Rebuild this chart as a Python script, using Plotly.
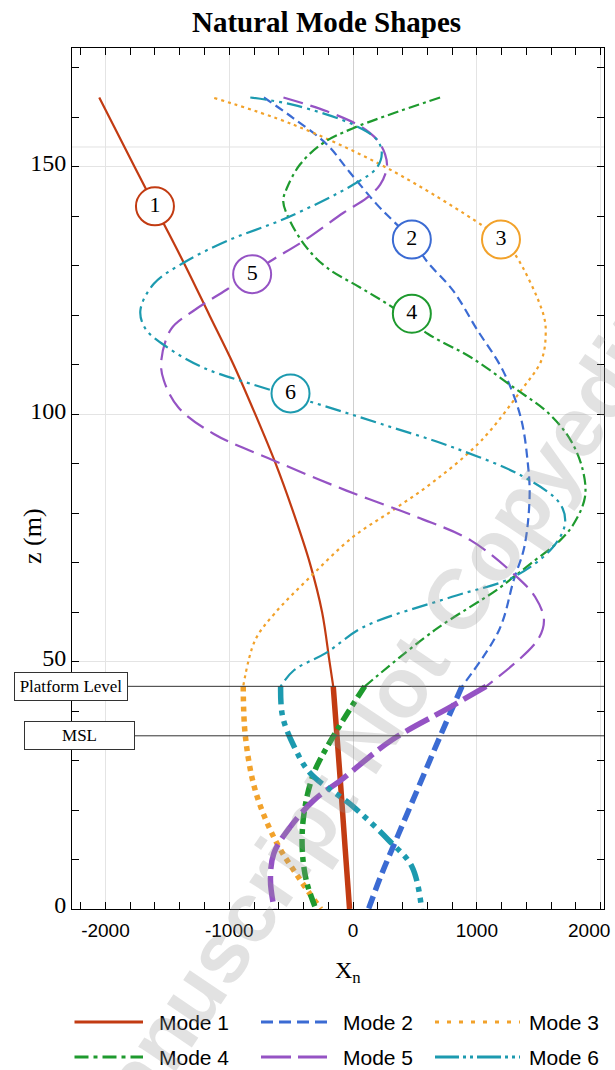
import plotly.graph_objects as go

# Elevations of the platform and of mean sea level (m)
PLATFORM_Z = 45
MSL_Z = 35

# Modal displacement X_n sampled along the height z (m), top to bottom
mode1_z = [164, 150, 140, 130, 120, 110, 100, 90, 80, 70, 60, 50, 45, 35, 25, 12, 0]
mode1_x = [-2050, -1765, -1560, -1355, -1160, -965, -790, -625, -480, -350, -250, -190, -160,
           -130, -100, -63, -28]

mode2_z = [164, 159.8, 154.5, 149, 142.4, 139, 135.3, 130.9, 124.9, 117.2, 108.8, 99.4, 90, 83.2,
           73.1, 66.4, 56.4, 45, 35, 25, 15, 7, 0]
mode2_x = [-720, -481, -211, -30, 192, 326, 475, 596, 810, 999, 1211, 1354, 1412, 1426,
           1383, 1297, 1180, 880, 705, 535, 365, 230, 125]

mode3_z = [163.9, 158.5, 149.6, 138, 135.3, 132.3, 120.2, 116, 110.8, 104.7, 94.7, 86.6, 80.5,
           75.2, 67.1, 59.7, 54.3, 45, 35, 24, 14, 6, 0]
mode3_x = [-1121, -481, 286, 1052, 1193, 1308, 1537, 1556, 1520, 1354, 1037, 663, 316,
           0, -346, -634, -791, -887, -870, -790, -630, -430, -260]

mode4_z = [164, 157.8, 154.8, 150.5, 145.7, 143, 139, 133.6, 129.6, 125.6, 121.5, 116.2, 111.5,
           105.4, 100.1, 94.7, 88.6, 83.2, 77.9, 74.5, 69.9, 67.1, 64.3, 56.4, 45, 36.2, 27.5,
           19.5, 12.6, 5.9, 0]
mode4_x = [703, 1, -241, -427, -534, -564, -508, -373, -211, 57, 324, 606, 951,
           1297, 1583, 1758, 1857, 1873, 1784, 1672, 1440, 1297, 1150, 662, 95, -128, -316,
           -395, -411, -379, -300]

mode5_z = [164, 161.2, 158.2, 155.5, 152.5, 149.8, 146.4, 143.7, 140.7, 135, 130.9, 125.2, 120.9,
           117.2, 110.5, 106.8, 101.4, 96, 90.6, 84.6, 79.2, 74.5, 67.1, 63.1, 58.4, 54.3, 45,
           40.9, 34.2, 26.1, 22, 16.5, 11.3, 5.8, 0]
mode5_x = [-562, -211, 57, 192, 259, 273, 219, 111, -77, -400, -669, -1019, -1288,
           -1470, -1550, -1528, -1412, -1124, -637, -58, 517, 951, 1324, 1470, 1542, 1489, 1075,
           792, 316, -95, -316, -510, -639, -667, -636]

mode6_z = [164, 162.5, 158.5, 155.5, 152.8, 149.8, 146.4, 139.7, 135, 130.6, 126.3, 120.9, 117.2,
           113.5, 109.4, 106.1, 102.1, 98, 93.3, 87.3, 81.9, 77.9, 73.1, 67.1, 63.1, 57, 51.7,
           48.3, 45, 38.9, 32.8, 27.5, 20.7, 14, 8.6, 0]
mode6_x = [-830, -481, 3, 192, 232, 192, 3, -534, -1019, -1369, -1611, -1718, -1675,
           -1500, -1210, -822, -290, 230, 807, 1381, 1672, 1712, 1614, 1297, 800, 86, -221,
           -475, -585, -569, -475, -348, 1, 284, 475, 554]

mode_names = ["Mode 1", "Mode 2", "Mode 3", "Mode 4", "Mode 5", "Mode 6"]

# Numbered tags placed on each mode shape
tag_labels = ["1", "2", "3", "4", "5", "6"]
tag_x = [-1600, 475, 1195, 475, -815, -505]
tag_z = [142, 135.3, 135.3, 120.3, 128.3, 104.2]

# Horizontal axis ticks (the last label is drawn pulled inside the frame)
x_tickvals = [-2000, -1000, 0, 1000, 2000]
x_ticktext = ["-2000", "-1000", "0", "1000", ""]
x_last_label = "2000"

colors = ["#C23B12", "#3B6BD3", "#F2A22B", "#1E9A2E", "#9553C4", "#1C9AAF"]
thin_dash = ["solid", "9px,5px", "3px,4px", "11px,4px,3px,4px", "20px,8px",
             "16px,5px,3px,5px,3px,5px"]
thick_dash = ["solid", "13px,6px", "5px,5px", "13px,5px,5px,5px", "26px,7px",
              "18px,6px,5px,6px,5px,6px"]
legend_dash = ["solid", "12px,6px", "4px,8px", "14px,5px,4px,5px", "30px,7px",
               "24px,4px,3px,4px,3px,4px"]

modes = [(mode1_z, mode1_x), (mode2_z, mode2_x), (mode3_z, mode3_x),
         (mode4_z, mode4_x), (mode5_z, mode5_x), (mode6_z, mode6_x)]

SERIF = "Liberation Serif, Times New Roman, serif"
SANS = "Liberation Sans, Arial, sans-serif"

fig = go.Figure()

# Tower part (above the platform) thin, support structure (below) thick
for i, (z, x) in enumerate(modes):
    up = [(zz, xx) for zz, xx in zip(z, x) if zz >= PLATFORM_Z]
    lo = [(zz, xx) for zz, xx in zip(z, x) if zz <= PLATFORM_Z]
    fig.add_trace(go.Scatter(
        x=[p[1] for p in up], y=[p[0] for p in up], mode="lines",
        line=dict(color=colors[i], width=2.2, dash=thin_dash[i], shape="spline"),
        showlegend=False, hoverinfo="skip"))
    fig.add_trace(go.Scatter(
        x=[p[1] for p in lo], y=[p[0] for p in lo], mode="lines",
        line=dict(color=colors[i], width=5.5, dash=thick_dash[i], shape="spline"),
        showlegend=False, hoverinfo="skip"))

fig.add_trace(go.Scatter(
    x=tag_x, y=tag_z, mode="markers+text", text=tag_labels,
    textposition="middle center",
    textfont=dict(family=SERIF, size=22, color="black"),
    marker=dict(symbol="circle", size=38, color="white",
                line=dict(color=colors, width=2)),
    showlegend=False, hoverinfo="skip"))

shapes = []
annotations = []

# Platform level and MSL reference lines with their boxed labels
for zref in (PLATFORM_Z, MSL_Z):
    shapes.append(dict(type="line", xref="paper", yref="y", x0=0, x1=1, y0=zref, y1=zref,
                       line=dict(color="#333333", width=1), layer="above"))
shapes.append(dict(type="line", xref="paper", yref="y", x0=0, x1=1, y0=154, y1=154,
                   line=dict(color="#e2e2e2", width=1), layer="below"))

PLOT_L, PLOT_W, PLOT_B, PLOT_H = 72, 532, 909, 861
def px_x(p):
    return (p - PLOT_L) / PLOT_W
def px_y(p):
    return (PLOT_B - p) / PLOT_H

annotations.append(dict(xref="paper", yref="y", x=px_x(70.5), y=PLATFORM_Z, text="Platform Level",
                        showarrow=False, xanchor="center", yanchor="middle",
                        font=dict(family=SERIF, size=17, color="black"),
                        bgcolor="white", bordercolor="#333333", borderwidth=1, borderpad=3,
                        width=106, height=21))
annotations.append(dict(xref="paper", yref="y", x=px_x(79), y=MSL_Z, text="MSL",
                        showarrow=False, xanchor="center", yanchor="middle",
                        font=dict(family=SERIF, size=17, color="black"),
                        bgcolor="white", bordercolor="#333333", borderwidth=1, borderpad=3,
                        width=103, height=21))

# Last horizontal tick label, kept inside the figure edge
annotations.append(dict(xref="paper", yref="paper", x=px_x(612), y=px_y(930),
                        text=x_last_label, showarrow=False, xanchor="right", yanchor="middle",
                        font=dict(family=SANS, size=19, color="black")))

# Title and axis titles
annotations.append(dict(xref="paper", yref="paper", x=px_x(326.5), y=px_y(22.5),
                        text="<b>Natural Mode Shapes</b>",
                        showarrow=False, font=dict(family=SERIF, size=29, color="black"),
                        xanchor="center", yanchor="middle"))
annotations.append(dict(xref="paper", yref="paper", x=px_x(32), y=px_y(536), text="z (m)",
                        showarrow=False, textangle=-90,
                        font=dict(family=SERIF, size=26, color="black"),
                        xanchor="center", yanchor="middle"))
annotations.append(dict(xref="paper", yref="paper", x=px_x(348), y=px_y(972), text="X<sub>n</sub>",
                        showarrow=False, font=dict(family=SERIF, size=24, color="black"),
                        xanchor="center", yanchor="middle"))

# Legend: two rows of three line samples
row_y = [1022, 1057]
col_line = [(74.5, 143), (261, 327), (435, 520)]
col_text = [157, 341, 527]
for i, name in enumerate(mode_names):
    r, c = divmod(i, 3)
    yy = px_y(row_y[r])
    shapes.append(dict(type="line", xref="paper", yref="paper",
                       x0=px_x(col_line[c][0]), x1=px_x(col_line[c][1]), y0=yy, y1=yy,
                       line=dict(color=colors[i], width=3.2, dash=legend_dash[i])))
    annotations.append(dict(xref="paper", yref="paper", x=px_x(col_text[c]), y=yy, text=name,
                            showarrow=False, xanchor="left", yanchor="middle",
                            font=dict(family=SANS, size=21, color="black")))

# Publisher stamp across the figure
annotations.append(dict(xref="paper", yref="paper", x=px_x(390), y=px_y(700),
                        text="<b>Manuscript Not Copyedited</b>", showarrow=False, textangle=-56,
                        font=dict(family=SANS, size=85, color="rgba(150,150,150,0.28)"),
                        xanchor="center", yanchor="middle"))

axis_common = dict(showline=True, linecolor="black", linewidth=1, mirror="ticks",
                   ticks="inside", ticklen=7, tickcolor="black", tickwidth=1,
                   showgrid=True, gridcolor="#e4e4e4", gridwidth=1, automargin=False)

fig.update_layout(
    width=615, height=1070,
    margin=dict(l=72, r=11, t=48, b=161, autoexpand=False),
    paper_bgcolor="white", plot_bgcolor="white",
    showlegend=False,
    shapes=shapes, annotations=annotations,
    xaxis=dict(range=[-2270, 2027], tickmode="array", tickvals=x_tickvals, ticktext=x_ticktext,
               tickfont=dict(family=SANS, size=19, color="black"), ticklabelstandoff=4,
               zeroline=True, zerolinecolor="#cfcfcf", zerolinewidth=1,
               minor=dict(dtick=200, tick0=0, ticks="inside", ticklen=7, tickcolor="black",
                          showgrid=False),
               **axis_common),
    yaxis=dict(range=[0, 174], tick0=0, dtick=50,
               tickfont=dict(family=SERIF, size=24, color="black"), ticklabelshift=-4,
               zeroline=False,
               minor=dict(dtick=10, tick0=0, ticks="inside", ticklen=7, tickcolor="black",
                          showgrid=False),
               **axis_common),
)

fig.write_html("out.html")
